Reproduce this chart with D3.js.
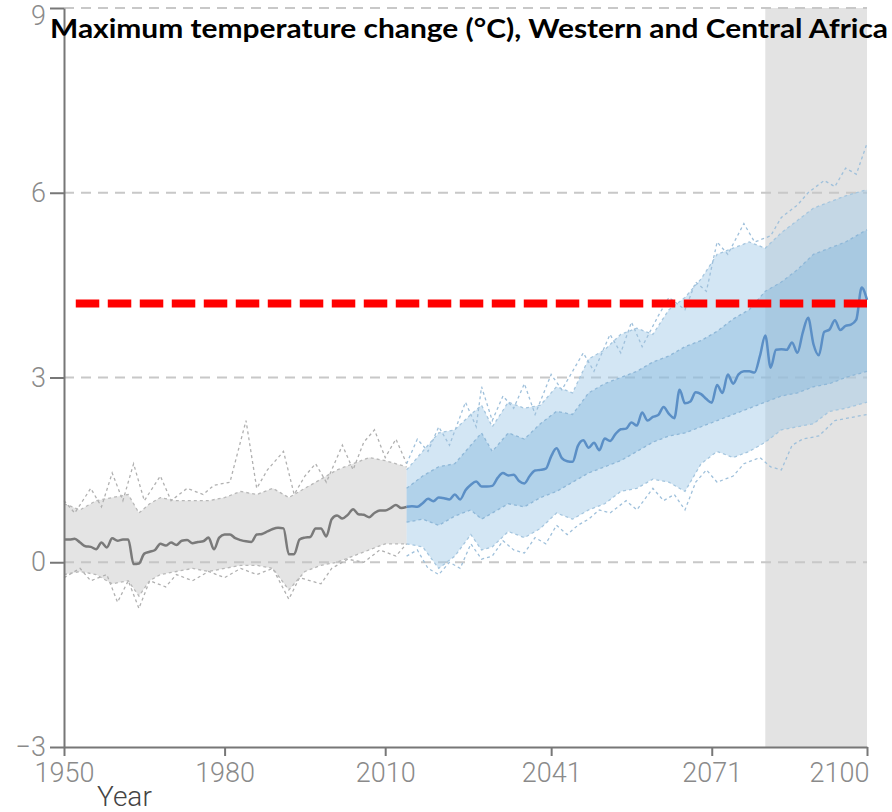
<!DOCTYPE html>
<html>
<head>
<meta charset="utf-8">
<script src="https://cdn.jsdelivr.net/npm/d3@7"></script>
<style>
html, body { margin: 0; padding: 0; background: #fff; }
svg { display: block; }
</style>
</head>
<body>
<svg width="892" height="812"></svg>
<script>
// axis ticks
const xTicks = [1950, 1980, 2010, 2041, 2071, 2100];
const yTicks = [-3, 0, 3, 6, 9];

// historical median (1950-2014)
const histYears = d3.range(1950, 2015);
const histMedian = [
  0.37, 0.37, 0.38, 0.32, 0.26, 0.25, 0.21, 0.32, 0.24, 0.39,
  0.35, 0.37, 0.37, -0.03, -0.02, 0.14, 0.17, 0.20, 0.30, 0.27,
  0.32, 0.28, 0.35, 0.36, 0.31, 0.33, 0.34, 0.40, 0.21, 0.40,
  0.45, 0.45, 0.39, 0.36, 0.34, 0.33, 0.45, 0.46, 0.50, 0.54,
  0.56, 0.55, 0.13, 0.13, 0.37, 0.40, 0.41, 0.55, 0.55, 0.42,
  0.70, 0.76, 0.71, 0.77, 0.86, 0.78, 0.77, 0.73, 0.80, 0.84,
  0.84, 0.88, 0.93, 0.88, 0.90
];

// projected median (2014-2100)
const futYears = d3.range(2014, 2101);
const futMedian = [
  0.90,
  0.91, 0.90, 0.96, 1.03, 0.99, 1.05, 1.04, 1.02, 1.10, 1.02,
  1.17, 1.26, 1.31, 1.23, 1.23, 1.24, 1.37, 1.45, 1.41, 1.42,
  1.32, 1.28, 1.40, 1.49, 1.50, 1.52, 1.72, 1.85, 1.69, 1.64,
  1.63, 1.89, 1.98, 1.86, 1.94, 1.82, 2.01, 1.97, 2.08, 2.16,
  2.17, 2.27, 2.22, 2.43, 2.30, 2.36, 2.39, 2.52, 2.41, 2.34,
  2.80, 2.58, 2.61, 2.76, 2.73, 2.65, 2.59, 2.88, 2.75, 3.05,
  2.90, 3.05, 3.10, 3.10, 3.08, 3.35, 3.68, 3.16, 3.45, 3.46,
  3.45, 3.57, 3.40, 3.73, 3.97, 3.54, 3.36, 3.74, 3.78, 3.93,
  3.77, 3.84, 3.86, 3.94, 4.46, 4.26
];

// historical ensemble spread
const histBandYears = [1950, 1953, 1956, 1959, 1962, 1964, 1966, 1968, 1971, 1974, 1977, 1980, 1983, 1986, 1989, 1992, 1995, 1998, 2001, 2004, 2007, 2010, 2014];
const histBandHigh = [0.95, 0.85, 1.0, 1.05, 1.1, 0.8, 0.95, 1.05, 1.0, 1.0, 1.0, 1.05, 1.15, 1.1, 1.2, 1.05, 1.2, 1.35, 1.5, 1.6, 1.7, 1.65, 1.55];
const histBandLow = [-0.2, -0.15, -0.2, -0.35, -0.3, -0.55, -0.3, -0.2, -0.15, -0.1, -0.15, -0.1, -0.05, -0.05, -0.1, -0.45, -0.15, -0.05, 0.0, 0.1, 0.2, 0.3, 0.3];

// projected ensemble spread (outer and inner ranges)
const futBandYears = [2014, 2017, 2020, 2023, 2026, 2028, 2030, 2033, 2036, 2039, 2042, 2045, 2048, 2051, 2054, 2057, 2060, 2063, 2066, 2069, 2072, 2075, 2078, 2081, 2084, 2087, 2090, 2093, 2096, 2100];
const outerHigh = [1.5, 1.8, 2.1, 2.15, 2.4, 2.55, 2.2, 2.6, 2.5, 2.55, 2.85, 2.75, 3.3, 3.45, 3.7, 3.8, 3.7, 4.1, 4.3, 4.6, 5.0, 5.1, 5.2, 5.1, 5.35, 5.55, 5.75, 5.85, 5.95, 6.05];
const outerLow = [0.3, 0.25, -0.1, 0.1, 0.45, 0.2, 0.25, 0.5, 0.4, 0.55, 0.8, 0.7, 0.85, 0.95, 1.15, 1.2, 1.35, 1.3, 1.15, 1.6, 1.8, 1.7, 1.8, 1.95, 2.15, 2.2, 2.25, 2.45, 2.5, 2.6];
const innerHigh = [1.2, 1.4, 1.55, 1.6, 1.9, 2.1, 1.8, 2.1, 2.0, 2.25, 2.45, 2.4, 2.75, 2.9, 3.0, 3.1, 3.25, 3.35, 3.5, 3.6, 3.75, 3.95, 4.1, 4.4, 4.55, 4.75, 5.0, 5.1, 5.2, 5.4];
const innerLow = [0.65, 0.7, 0.6, 0.75, 0.85, 0.7, 0.8, 0.95, 0.9, 1.05, 1.15, 1.3, 1.45, 1.55, 1.65, 1.8, 1.95, 2.05, 2.1, 2.2, 2.3, 2.4, 2.5, 2.6, 2.7, 2.75, 2.85, 2.9, 3.0, 3.1];

// extreme ensemble members (dotted)
const hiHistYears = [1950, 1952, 1955, 1957, 1959, 1961, 1963, 1965, 1968, 1970, 1973, 1976, 1978, 1981, 1984, 1986, 1988, 1991, 1993, 1995, 1997, 1999, 2002, 2004, 2006, 2008, 2010, 2012, 2014];
const hiHistVals = [1.0, 0.8, 1.2, 0.9, 1.45, 1.0, 1.6, 1.0, 1.4, 1.0, 1.2, 1.1, 1.25, 1.3, 2.3, 1.2, 1.5, 1.8, 1.1, 1.4, 1.6, 1.3, 1.9, 1.5, 1.95, 2.15, 1.7, 2.0, 1.6];
const loHistYears = [1950, 1953, 1955, 1958, 1960, 1962, 1964, 1966, 1969, 1971, 1974, 1977, 1980, 1983, 1986, 1989, 1992, 1994, 1998, 2000, 2003, 2006, 2009, 2012, 2014];
const loHistVals = [-0.25, -0.1, -0.3, -0.2, -0.65, -0.3, -0.75, -0.3, -0.4, -0.2, -0.3, -0.15, -0.25, -0.1, -0.2, -0.1, -0.6, -0.25, -0.35, -0.1, 0.05, 0.0, 0.2, 0.1, 0.3];
const hiFutYears = [2014, 2016, 2018, 2020, 2022, 2025, 2027, 2028, 2030, 2032, 2034, 2036, 2038, 2041, 2043, 2045, 2047, 2049, 2052, 2054, 2056, 2058, 2061, 2063, 2066, 2068, 2070, 2072, 2074, 2077, 2079, 2082, 2084, 2087, 2089, 2092, 2094, 2096, 2098, 2100];
const hiFutVals = [1.6, 2.0, 1.8, 2.2, 1.9, 2.6, 2.2, 2.85, 2.3, 2.7, 2.5, 2.9, 2.4, 3.05, 2.8, 3.1, 3.4, 3.1, 3.7, 3.4, 3.9, 3.5, 4.0, 4.3, 4.1, 4.55, 4.4, 5.2, 5.0, 5.5, 5.2, 5.3, 5.6, 5.8, 6.0, 6.2, 6.1, 6.4, 6.3, 6.8];
const loFutYears = [2014, 2016, 2018, 2020, 2022, 2024, 2026, 2028, 2030, 2032, 2034, 2036, 2038, 2040, 2042, 2044, 2046, 2048, 2050, 2052, 2055, 2057, 2060, 2062, 2064, 2066, 2068, 2070, 2072, 2075, 2077, 2080, 2082, 2084, 2086, 2088, 2091, 2094, 2097, 2100];
const loFutVals = [0.1, 0.2, -0.1, -0.2, 0.0, -0.1, 0.3, 0.05, 0.1, 0.35, 0.2, 0.15, 0.4, 0.3, 0.6, 0.45, 0.6, 0.7, 0.85, 0.8, 1.0, 0.85, 1.2, 1.0, 1.1, 0.85, 1.3, 1.5, 1.3, 1.4, 1.6, 1.7, 1.55, 1.5, 1.9, 2.0, 2.05, 2.3, 2.35, 2.4];

// reference period shading and threshold line
const shadeYears = [2081, 2100];
const thresholdYears = [1952.2, 2100];
const thresholdValue = 4.2;

const titleText = "Maximum temperature change (°C), Western and Central Africa";

const svg = d3.select("svg");
const x = d3.scaleLinear().domain([1950, 2100]).range([64, 867]);
const y = d3.scaleLinear().domain([-3, 9]).range([747, 8]);

const zip = (a, b) => a.map((v, i) => [v, b[i]]);
const zip3 = (a, b, c) => a.map((v, i) => [v, b[i], c[i]]);

const area = d3.area()
    .x(d => x(d[0]))
    .y0(d => y(d[1]))
    .y1(d => y(d[2]));
const line = d3.line()
    .x(d => x(d[0]))
    .y(d => y(d[1]));
const smooth = d3.line()
    .x(d => x(d[0]))
    .y(d => y(d[1]))
    .curve(d3.curveMonotoneX);

// shaded period
svg.append("rect")
    .attr("x", x(shadeYears[0]))
    .attr("y", y(9))
    .attr("width", x(shadeYears[1]) - x(shadeYears[0]))
    .attr("height", y(-3) - y(9))
    .attr("fill", "#e3e3e3");

// grid
svg.append("g").selectAll("line")
    .data(yTicks.filter(d => d > -3))
    .enter().append("line")
    .attr("x1", x(1950)).attr("x2", x(2100))
    .attr("y1", d => y(d)).attr("y2", d => y(d))
    .attr("stroke", "#c8c8c8")
    .attr("stroke-width", 2)
    .attr("stroke-dasharray", "10,7");

// historical spread
svg.append("path")
    .attr("d", area(zip3(histBandYears, histBandLow, histBandHigh)))
    .attr("fill", "#c4c4c4")
    .attr("fill-opacity", 0.45);

// projected spread
svg.append("path")
    .attr("d", area(zip3(futBandYears, outerLow, outerHigh)))
    .attr("fill", "#9ec8e6")
    .attr("fill-opacity", 0.45);
svg.append("path")
    .attr("d", area(zip3(futBandYears, innerLow, innerHigh)))
    .attr("fill", "#7fb4dc")
    .attr("fill-opacity", 0.4);

// dotted members
const dotted = [
    { pts: zip(hiHistYears, hiHistVals), c: "#b0b0b0" },
    { pts: zip(loHistYears, loHistVals), c: "#b0b0b0" },
    { pts: zip(histBandYears, histBandHigh), c: "#b8b8b8" },
    { pts: zip(histBandYears, histBandLow), c: "#b8b8b8" },
    { pts: zip(hiFutYears, hiFutVals), c: "#9fc0db" },
    { pts: zip(loFutYears, loFutVals), c: "#9fc0db" },
    { pts: zip(futBandYears, outerHigh), c: "#a5c6df" },
    { pts: zip(futBandYears, outerLow), c: "#a5c6df" },
    { pts: zip(futBandYears, innerHigh), c: "#8fb8d8" },
    { pts: zip(futBandYears, innerLow), c: "#8fb8d8" }
];
svg.append("g").selectAll("path")
    .data(dotted)
    .enter().append("path")
    .attr("d", d => line(d.pts))
    .attr("fill", "none")
    .attr("stroke", d => d.c)
    .attr("stroke-width", 1.3)
    .attr("stroke-dasharray", "3,3");

// medians
svg.append("path")
    .attr("d", smooth(zip(histYears, histMedian)))
    .attr("fill", "none")
    .attr("stroke", "#7a7a7a")
    .attr("stroke-width", 2.5);
svg.append("path")
    .attr("d", smooth(zip(futYears, futMedian)))
    .attr("fill", "none")
    .attr("stroke", "#5b8fc6")
    .attr("stroke-width", 2.5);

// threshold
svg.append("line")
    .attr("x1", x(thresholdYears[0])).attr("x2", x(thresholdYears[1]))
    .attr("y1", y(thresholdValue)).attr("y2", y(thresholdValue))
    .attr("stroke", "#ff0000")
    .attr("stroke-width", 8)
    .attr("stroke-dasharray", "23.5,8.5");

// axes
const yAxis = d3.axisLeft(y).tickValues(yTicks).tickSize(14).tickSizeOuter(0).tickPadding(4);
const gy = svg.append("g").attr("transform", `translate(${x(1950)},0)`).call(yAxis);
const xAxis = d3.axisBottom(x).tickValues(xTicks).tickFormat(d3.format("d")).tickSize(9).tickSizeOuter(0).tickPadding(7);
const gx = svg.append("g").attr("transform", `translate(0,${y(-3)})`).call(xAxis);

[gx, gy].forEach(g => {
    g.select(".domain").attr("stroke", "#777").attr("stroke-width", 2);
    g.selectAll(".tick line").attr("stroke", "#777").attr("stroke-width", 2);
    g.selectAll(".tick text")
        .attr("fill", "#8a8a8a")
        .attr("font-family", "Roboto, sans-serif")
        .attr("font-weight", 300)
        .attr("font-size", 27);
});
gy.selectAll(".tick text").filter(d => d === 9).attr("dy", "0.6em");
gx.selectAll(".tick text").filter(d => d === 2100).attr("text-anchor", "end").attr("dx", 2);

svg.append("text")
    .attr("x", 97)
    .attr("y", 806)
    .attr("fill", "#444")
    .attr("font-family", "Roboto, sans-serif")
    .attr("font-weight", 300)
    .attr("font-size", 28)
    .text("Year");

svg.append("text")
    .attr("x", 50)
    .attr("y", 38)
    .attr("fill", "#000")
    .attr("font-family", "Lato, sans-serif")
    .attr("font-weight", 700)
    .attr("font-size", 27)
    .attr("textLength", 838)
    .attr("lengthAdjust", "spacingAndGlyphs")
    .text(titleText);
</script>
</body>
</html>
